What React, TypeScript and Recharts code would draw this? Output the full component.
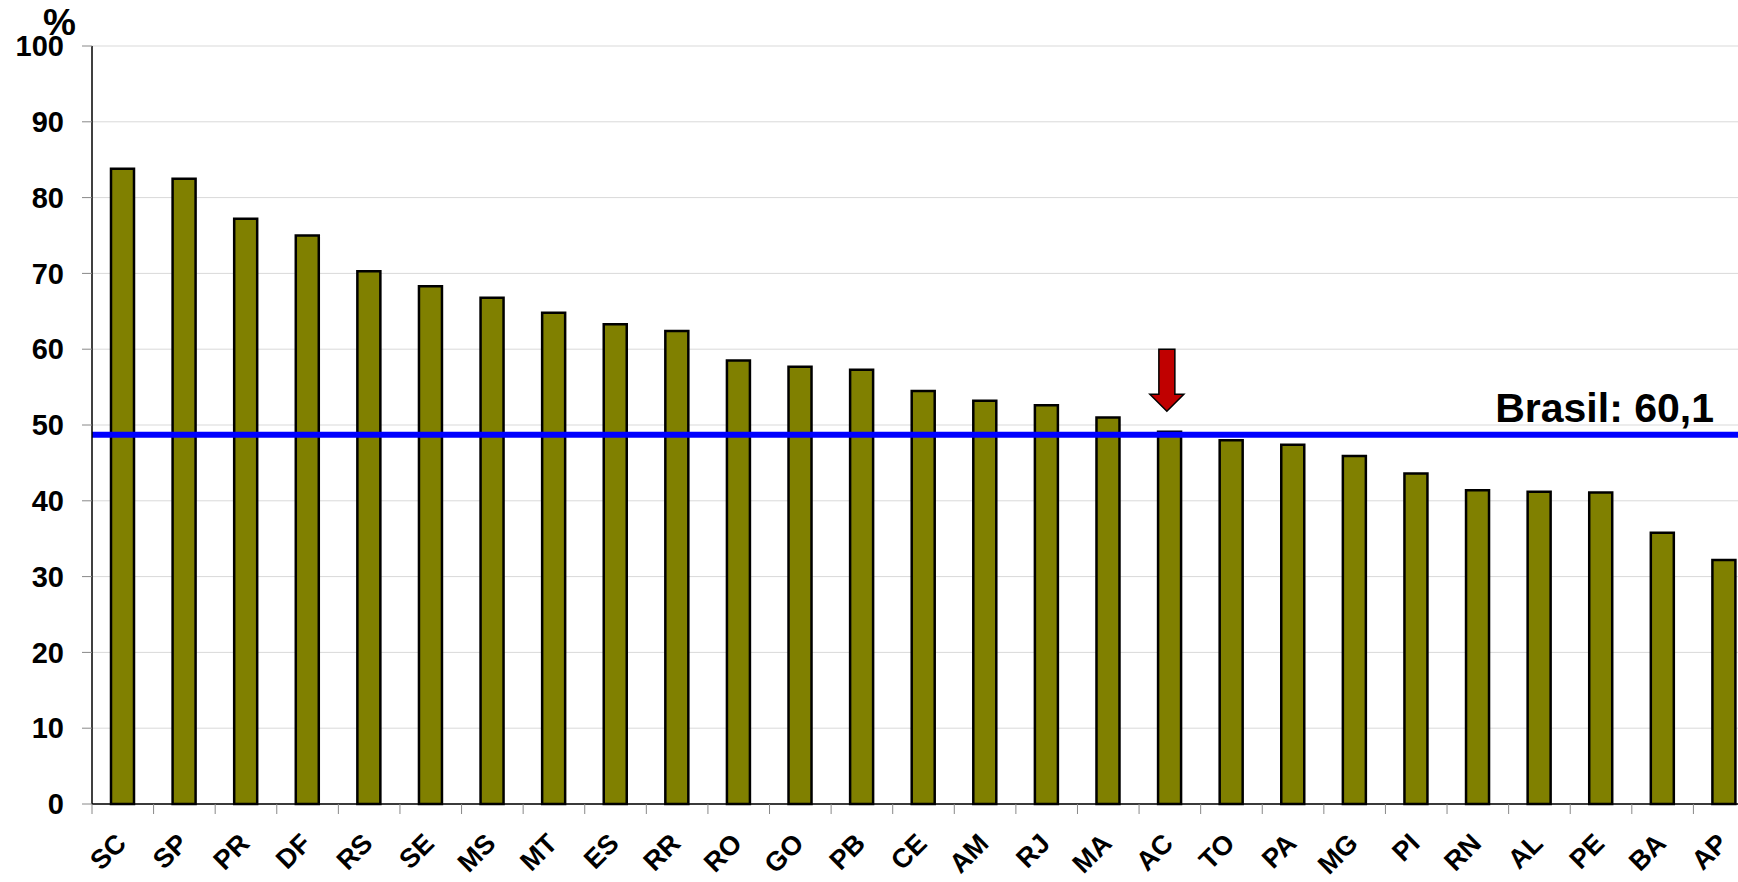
import React from 'react';
import {
  BarChart,
  Bar,
  XAxis,
  YAxis,
  CartesianGrid,
  ReferenceLine,
  ReferenceDot,
} from 'recharts';

const states = [
  'SC', 'SP', 'PR', 'DF', 'RS', 'SE', 'MS', 'MT', 'ES', 'RR', 'RO', 'GO', 'PB', 'CE',
  'AM', 'RJ', 'MA', 'AC', 'TO', 'PA', 'MG', 'PI', 'RN', 'AL', 'PE', 'BA', 'AP',
];
const values = [
  83.8, 82.5, 77.2, 75.0, 70.3, 68.3, 66.8, 64.8, 63.3, 62.4, 58.5, 57.7, 57.3, 54.5,
  53.2, 52.6, 51.0, 49.1, 48.0, 47.4, 45.9, 43.6, 41.4, 41.2, 41.1, 35.8, 32.2,
];
const yTicks = [0, 10, 20, 30, 40, 50, 60, 70, 80, 90, 100];
const brasilLine = 48.7;
const brasilLabel = 'Brasil: 60,1';
const highlighted = 'AC';
const arrowTop = 60;

const data = states.map((s, i) => ({ uf: s, value: values[i] }));

const FONT = '"Liberation Sans", Arial, sans-serif';
const CHART_W = 1755;
const Y_W = 92;
const AXIS_Y = 804;
const STEP = (CHART_W - Y_W) / states.length;

function renderStateTick(props: any) {
  const { x, payload } = props;
  const bx = x - STEP / 2;
  const tx = x + 5;
  const ty = AXIS_Y + 41;
  return (
    <g key={payload.value}>
      <line x1={bx} y1={AXIS_Y} x2={bx} y2={AXIS_Y + 10} stroke="#888" strokeWidth={1} />
      <text
        x={tx}
        y={ty}
        textAnchor="end"
        transform={`rotate(-45 ${tx} ${ty})`}
        style={{ fontFamily: FONT, fontWeight: 'bold', fontSize: 27 }}
        fill="#000"
      >
        {payload.value}
      </text>
    </g>
  );
}

function Arrow(props: any) {
  const { cx, cy } = props;
  const c = cx - 3;
  const d = `M${c - 8},${cy} L${c + 8},${cy} L${c + 8},${cy + 45} L${c + 17},${cy + 45} L${c},${cy + 62} L${c - 17},${cy + 45} L${c - 8},${cy + 45} Z`;
  return <path d={d} fill="#c00000" stroke="#000" strokeWidth={1.5} />;
}

function BrasilLabel(props: any) {
  const { viewBox } = props;
  return (
    <text
      x={1714}
      y={viewBox.y - 13}
      textAnchor="end"
      fontFamily={FONT}
      fontWeight="bold"
      fontSize={41}
      fill="#000"
    >
      {brasilLabel}
    </text>
  );
}

export default function App() {
  return (
    <div
      style={{
        position: 'absolute',
        left: 0,
        top: 0,
        width: 1738,
        height: 882,
        overflow: 'hidden',
        background: '#fff',
      }}
    >
      <BarChart
        width={CHART_W}
        height={882}
        data={data}
        margin={{ top: 46, right: 0, bottom: 0, left: 0 }}
      >
        <CartesianGrid vertical={false} stroke="#d9d9d9" strokeWidth={1} />
        <XAxis
          dataKey="uf"
          interval={0}
          height={78}
          axisLine={{ stroke: '#000', strokeWidth: 1.5 }}
          tickLine={false}
          tickSize={0}
          tickMargin={0}
          tick={renderStateTick}
        />
        <YAxis
          domain={[0, 100]}
          ticks={yTicks}
          interval={0}
          width={Y_W}
          axisLine={{ stroke: '#000', strokeWidth: 1.5 }}
          tickLine={{ stroke: '#888' }}
          tickSize={10}
          tickMargin={18}
          tick={{ fontFamily: FONT, fontWeight: 'bold', fontSize: 29, fill: '#000' }}
        />
        <Bar
          dataKey="value"
          barSize={23}
          fill="#808000"
          stroke="#000"
          strokeWidth={2.5}
          isAnimationActive={false}
        />
        <ReferenceLine
          y={brasilLine}
          stroke="#0000ff"
          strokeWidth={6}
          label={<BrasilLabel />}
        />
        <ReferenceDot x={highlighted} y={arrowTop} shape={<Arrow />} />
      </BarChart>
      <div
        style={{
          position: 'absolute',
          left: 43,
          top: 2,
          fontFamily: FONT,
          fontWeight: 'bold',
          fontSize: 37,
          lineHeight: '42px',
          color: '#000',
        }}
      >
        %
      </div>
    </div>
  );
}
